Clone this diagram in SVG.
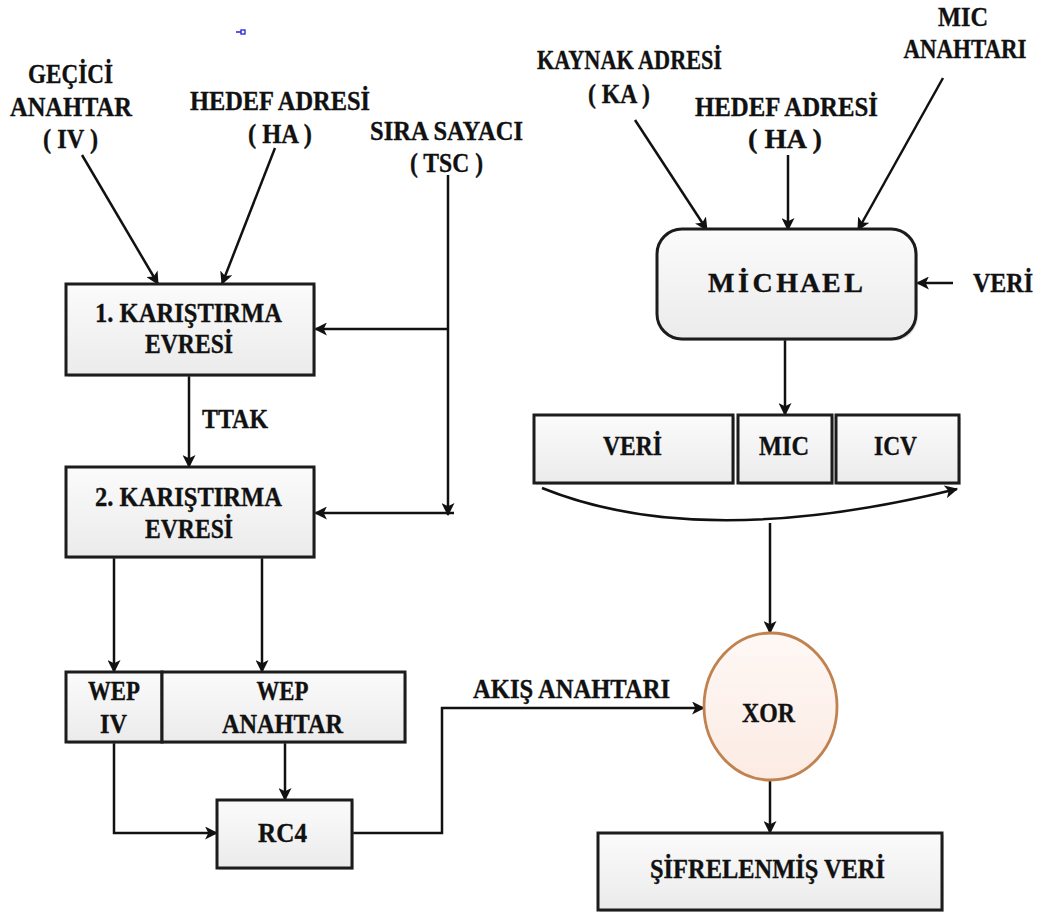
<svg xmlns="http://www.w3.org/2000/svg" width="1049" height="915" viewBox="0 0 1049 915">
<style>
text{font-family:"Liberation Serif","Times New Roman",serif;font-weight:bold;font-size:28px;fill:#111;stroke:#111;stroke-width:0.35;text-anchor:middle}
.box{fill:url(#g);stroke:#1c1c1c;stroke-width:3}
.sh{fill:#999;opacity:.35}
.c{fill:none;stroke:#111;stroke-width:2.5}
.a{marker-end:url(#ah)}
</style>
<defs>
<linearGradient id="g" x1="0" y1="0" x2="0" y2="1"><stop offset="0" stop-color="#fbfbfb"/><stop offset="1" stop-color="#ebebeb"/></linearGradient>
<linearGradient id="gx" x1="0" y1="0" x2="0" y2="1"><stop offset="0" stop-color="#fef8f5"/><stop offset="1" stop-color="#fcebe3"/></linearGradient>
<marker id="ah" viewBox="0 0 12 12" refX="11" refY="6" markerWidth="13" markerHeight="13" markerUnits="userSpaceOnUse" orient="auto">
<path d="M0,0 L12,6 L0,12 L3,6 z" fill="#111"/>
</marker>
</defs>
<rect width="1049" height="915" fill="#fff"/>
<g id="artifact"><line x1="236" y1="32" x2="241" y2="32" stroke="#2020e0" stroke-width="1.5"/><rect x="241" y="30" width="4" height="4" fill="none" stroke="#2020e0" stroke-width="1.3"/></g>

<g id="labels">
<text x="70.5" y="83" textLength="85" lengthAdjust="spacingAndGlyphs">GEÇİCİ</text>
<text x="71" y="116" textLength="122" lengthAdjust="spacingAndGlyphs">ANAHTAR</text>
<text x="70.5" y="148" textLength="55" lengthAdjust="spacingAndGlyphs">( IV )</text>
<text x="280" y="110" textLength="180" lengthAdjust="spacingAndGlyphs">HEDEF ADRESİ</text>
<text x="280" y="143" textLength="64" lengthAdjust="spacingAndGlyphs">( HA )</text>
<text x="446.5" y="140" textLength="153" lengthAdjust="spacingAndGlyphs">SIRA SAYACI</text>
<text x="446.5" y="172" textLength="73" lengthAdjust="spacingAndGlyphs">( TSC )</text>
<text x="629.5" y="69" textLength="185" lengthAdjust="spacingAndGlyphs">KAYNAK ADRESİ</text>
<text x="619" y="103" textLength="62" lengthAdjust="spacingAndGlyphs">( KA )</text>
<text x="786.5" y="116" textLength="183" lengthAdjust="spacingAndGlyphs">HEDEF ADRESİ</text>
<text x="785" y="148" textLength="74" lengthAdjust="spacingAndGlyphs">( HA )</text>
<text x="963" y="26" textLength="50" lengthAdjust="spacingAndGlyphs">MIC</text>
<text x="965" y="58" font-size="26" textLength="123" lengthAdjust="spacingAndGlyphs">ANAHTARI</text>
<text x="1003" y="292" textLength="60" lengthAdjust="spacingAndGlyphs">VERİ</text>
<text x="235" y="428" textLength="66" lengthAdjust="spacingAndGlyphs">TTAK</text>
<text x="571.5" y="698" textLength="197" lengthAdjust="spacingAndGlyphs">AKIŞ ANAHTARI</text>
</g>

<g id="connectors">
<line class="c a" x1="82" y1="155" x2="158" y2="284"/>
<line class="c a" x1="275" y1="148" x2="222" y2="284"/>
<line class="c a" x1="448" y1="175" x2="448" y2="515"/>
<line class="c a" x1="448" y1="329" x2="315" y2="329"/>
<line class="c a" x1="454" y1="513" x2="315" y2="513"/>
<line class="c a" x1="189" y1="375" x2="189" y2="467"/>
<line class="c a" x1="114" y1="557" x2="114" y2="672"/>
<line class="c a" x1="262" y1="557" x2="262" y2="672"/>
<line class="c a" x1="285" y1="742" x2="285" y2="800"/>
<polyline class="c a" points="114,742 114,833 217,833"/>
<polyline class="c a" points="352,833 442,833 442,708 704,708"/>
<line class="c a" x1="635" y1="120" x2="707" y2="230"/>
<line class="c a" x1="788" y1="155" x2="788" y2="230"/>
<line class="c a" x1="943" y1="78" x2="858" y2="230"/>
<line class="c a" x1="953" y1="283" x2="917" y2="283"/>
<line class="c a" x1="785" y1="339" x2="785" y2="415"/>
<path class="c a" d="M542,488 Q700,552 957,489"/>
<line class="c a" x1="770" y1="523" x2="770" y2="633"/>
<line class="c a" x1="770" y1="780" x2="770" y2="833"/>
</g>

<g id="karistirma1">
<rect class="sh" x="68" y="286" width="248" height="91"/>
<rect class="box" x="66" y="284" width="248" height="91"/>
<text x="188.5" y="322" textLength="187" lengthAdjust="spacingAndGlyphs">1. KARIŞTIRMA</text>
<text x="189" y="353" textLength="88" lengthAdjust="spacingAndGlyphs">EVRESİ</text>
</g>
<g id="karistirma2">
<rect class="sh" x="68" y="469" width="248" height="90"/>
<rect class="box" x="66" y="467" width="248" height="90"/>
<text x="188.5" y="506" textLength="187" lengthAdjust="spacingAndGlyphs">2. KARIŞTIRMA</text>
<text x="189" y="538" textLength="88" lengthAdjust="spacingAndGlyphs">EVRESİ</text>
</g>
<g id="wepiv">
<rect class="sh" x="68" y="674" width="96" height="70"/>
<rect class="box" x="66" y="672" width="96" height="70"/>
<text x="114" y="700" textLength="52" lengthAdjust="spacingAndGlyphs">WEP</text>
<text x="113.5" y="733" textLength="27" lengthAdjust="spacingAndGlyphs">IV</text>
</g>
<g id="wepanahtar">
<rect class="sh" x="164" y="674" width="243" height="70"/>
<rect class="box" x="162" y="672" width="243" height="70"/>
<text x="282.5" y="700" textLength="52" lengthAdjust="spacingAndGlyphs">WEP</text>
<text x="282.5" y="733" textLength="121" lengthAdjust="spacingAndGlyphs">ANAHTAR</text>
</g>
<g id="rc4">
<rect class="sh" x="219" y="802" width="135" height="68"/>
<rect class="box" x="217" y="800" width="135" height="68"/>
<text x="282.5" y="842" textLength="49" lengthAdjust="spacingAndGlyphs">RC4</text>
</g>
<g id="michael">
<rect class="sh" x="659" y="231" width="259" height="110" rx="25"/>
<rect class="box" x="657" y="229" width="259" height="110" rx="25"/>
<text x="785.5" y="292" font-size="25" textLength="155" lengthAdjust="spacing">M İ C H A E L</text>
</g>
<g id="veri">
<rect class="sh" x="536" y="417" width="199" height="68"/>
<rect class="box" x="534" y="415" width="199" height="68"/>
<text x="632.5" y="455" textLength="59" lengthAdjust="spacingAndGlyphs">VERİ</text>
</g>
<g id="mic">
<rect class="sh" x="740" y="417" width="94" height="68"/>
<rect class="box" x="738" y="415" width="94" height="68"/>
<text x="784" y="455" textLength="50" lengthAdjust="spacingAndGlyphs">MIC</text>
</g>
<g id="icv">
<rect class="sh" x="838" y="417" width="123" height="68"/>
<rect class="box" x="836" y="415" width="123" height="68"/>
<text x="895.5" y="455" textLength="43" lengthAdjust="spacingAndGlyphs">ICV</text>
</g>
<g id="xor">
<ellipse cx="770.5" cy="706.5" rx="66.5" ry="73.5" fill="url(#gx)" stroke="#c0824f" stroke-width="2.8"/>
<text x="768.5" y="722" textLength="53" lengthAdjust="spacingAndGlyphs">XOR</text>
</g>
<g id="sifreli">
<rect class="sh" x="600" y="835" width="344" height="77"/>
<rect class="box" x="598" y="833" width="344" height="77"/>
<text x="767.5" y="878" textLength="235" lengthAdjust="spacingAndGlyphs">ŞİFRELENMİŞ VERİ</text>
</g>
</svg>
